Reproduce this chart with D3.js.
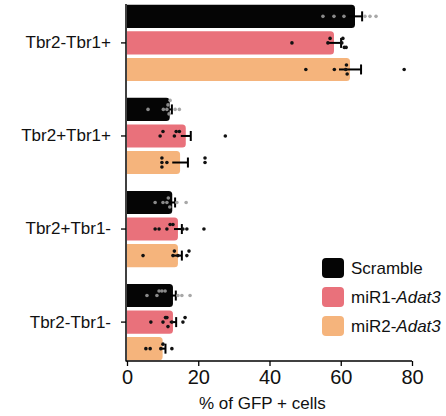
<!DOCTYPE html>
<html>
<head>
<meta charset="utf-8">
<script src="https://cdn.jsdelivr.net/npm/d3@7"></script>
<style>
  html, body { margin: 0; padding: 0; background: #fff; }
  svg { display: block; font-family: "Liberation Sans", Arial, Helvetica, sans-serif; }
</style>
</head>
<body>
<svg id="chart" width="446" height="416"></svg>
<script>
// ---- data ----
const categories = ["Tbr2-Tbr1+", "Tbr2+Tbr1+", "Tbr2+Tbr1-", "Tbr2-Tbr1-"];
const seriesNames = ["Scramble", "miR1-Adat3", "miR2-Adat3"];
const xTicks = [0, 20, 40, 60, 80];

const scrambleMean = [64.0, 12.0, 12.7, 12.9];
const mir1Mean     = [58.1, 16.5, 14.3, 12.9];
const mir2Mean     = [62.6, 14.9, 14.3, 10.0];

const scrambleErr = [2.0, 0.6, 0.8, 0.8];
const mir1Err     = [2.0, 1.4, 1.1, 0.9];
const mir2Err     = [3.1, 2.2, 1.1, 0.8];

const scramblePts = [
  [55.0, 58.1, 60.9, 66.8, 68.2, 69.9],
  [5.9, 10.2, 11.2, 11.5, 11.8, 12.1, 13.5, 14.7],
  [7.9, 10.1, 11.2, 11.6, 12.0, 14.0, 16.6],
  [5.6, 8.4, 9.0, 9.8, 10.7, 14.3, 15.4, 17.7]
];
const mir1Pts = [
  [46.3, 56.4, 57.0, 60.3, 60.6, 61.0, 61.5],
  [9.3, 10.1, 13.3, 13.8, 14.7, 27.6],
  [7.9, 9.0, 11.2, 12.1, 12.9, 15.7, 16.8, 21.6],
  [6.7, 10.1, 10.8, 11.2, 11.5, 12.6, 15.7, 16.3]
];
const mir2Pts = [
  [50.2, 58.2, 61.4, 61.6, 61.8, 77.8],
  [9.8, 9.8, 9.8, 11.2, 21.9, 21.9],
  [4.5, 12.9, 13.3, 14.3, 16.8, 17.4],
  [5.3, 6.5, 9.5, 10.1, 12.6]
];

const seriesColors = ["#050505", "#E9717B", "#F5B47C"];
const pointColors  = ["#9a9a9a", "#111111", "#111111"];

// ---- build ----
const means = [scrambleMean, mir1Mean, mir2Mean];
const errs  = [scrambleErr, mir1Err, mir2Err];
const pts   = [scramblePts, mir1Pts, mir2Pts];

const svg = d3.select("#chart");

const x = d3.scaleLinear().domain([0, 80]).range([127, 412]);
const y0 = d3.scaleBand().domain(categories).range([4, 361]).paddingInner(0.164).paddingOuter(0);
const y1 = d3.scaleBand().domain(seriesNames).range([0, y0.bandwidth()]).paddingInner(0.13).paddingOuter(0.03);

const rows = [];
categories.forEach((c, ci) => {
  seriesNames.forEach((s, si) => {
    rows.push({ cat: c, ser: s, si, mean: means[si][ci], err: errs[si][ci], pts: pts[si][ci] });
  });
});

function barPath(x0, yTop, w, h, r) {
  r = Math.min(r, w / 2, h / 2);
  return `M${x0},${yTop}H${x0 + w - r}Q${x0 + w},${yTop} ${x0 + w},${yTop + r}` +
         `V${yTop + h - r}Q${x0 + w},${yTop + h} ${x0 + w - r},${yTop + h}H${x0}Z`;
}

const g = svg.append("g");

// bars
g.selectAll("path.bar").data(rows).join("path")
  .attr("class", "bar")
  .attr("fill", d => seriesColors[d.si])
  .attr("d", d => barPath(x(0), y0(d.cat) + y1(d.ser), x(d.mean) - x(0), y1.bandwidth(), 3.5));

// error bars
const eb = g.selectAll("g.err").data(rows).join("g").attr("class", "err")
  .attr("transform", d => `translate(0,${y0(d.cat) + y1(d.ser) + y1.bandwidth() / 2})`);
eb.append("line")
  .attr("x1", d => x(d.mean - d.err)).attr("x2", d => x(d.mean + d.err))
  .attr("y1", 0).attr("y2", 0)
  .attr("stroke", "#000").attr("stroke-width", 2);
eb.append("line")
  .attr("x1", d => x(d.mean + d.err)).attr("x2", d => x(d.mean + d.err))
  .attr("y1", -5).attr("y2", 5)
  .attr("stroke", "#000").attr("stroke-width", 2);

// points (stacked vertically where they overlap)
const pointData = [];
rows.forEach(d => {
  const cy = y0(d.cat) + y1(d.ser) + y1.bandwidth() / 2;
  const placed = [];
  const offs = [0, -4.5, 4.5, -9, 9];
  d.pts.forEach(v => {
    const px = x(v);
    const near = placed.filter(p => Math.abs(p - px) < 3.5).length;
    placed.push(px);
    const inside = v <= d.mean;
    pointData.push({ px, py: cy + offs[near % offs.length], si: d.si, inside });
  });
});
g.selectAll("circle.pt").data(pointData).join("circle")
  .attr("class", "pt")
  .attr("cx", d => d.px).attr("cy", d => d.py).attr("r", 1.8)
  .attr("fill", d => d.si === 0 ? (d.inside ? "#8a8a8a" : "#a8a8a8") : pointColors[d.si]);

// axes
const xAxis = d3.axisBottom(x).tickValues(xTicks).tickSize(5).tickPadding(4).tickSizeOuter(0);
const gx = svg.append("g").attr("transform", "translate(0,361)").call(xAxis);
gx.select(".domain").attr("stroke", "#000").attr("stroke-width", 1.5).attr("d", `M${x(0) - 1},0H${x(80)}`);
gx.selectAll(".tick line").attr("stroke", "#000").attr("stroke-width", 1.3);
gx.selectAll(".tick text").attr("font-size", 20).attr("fill", "#111")
  .attr("font-family", "Liberation Sans, Arial, sans-serif");

const yAxis = d3.axisLeft(y0).tickSize(5).tickPadding(10).tickSizeOuter(0);
const gy = svg.append("g").attr("transform", `translate(${x(0) - 1},0)`).call(yAxis);
gy.select(".domain").attr("stroke", "#000").attr("stroke-width", 1.5).attr("d", "M0,4V361.5");
gy.selectAll(".tick line").attr("stroke", "#000").attr("stroke-width", 1.3);
gy.selectAll(".tick text").attr("font-size", 17).attr("fill", "#111")
  .attr("font-family", "Liberation Sans, Arial, sans-serif");

// x title
svg.append("text").attr("x", x(38)).attr("y", 409).attr("text-anchor", "middle")
  .attr("font-size", 17).attr("fill", "#111").text("% of GFP + cells");

// legend
const legend = svg.append("g");
const legY = d3.scalePoint().domain(seriesNames).range([268, 326]);
seriesNames.forEach((s, i) => {
  legend.append("rect").attr("x", 322).attr("y", legY(s) - 10).attr("width", 22).attr("height", 20)
    .attr("rx", 4).attr("fill", seriesColors[i]);
  const t = legend.append("text").attr("x", 351).attr("y", legY(s) + 6).attr("font-size", 17).attr("fill", "#111");
  const parts = s.split("-");
  if (parts.length > 1) {
    t.append("tspan").text(parts[0] + "-");
    t.append("tspan").attr("font-style", "italic").text(parts[1]);
  } else {
    t.text(s);
  }
});
</script>
</body>
</html>
